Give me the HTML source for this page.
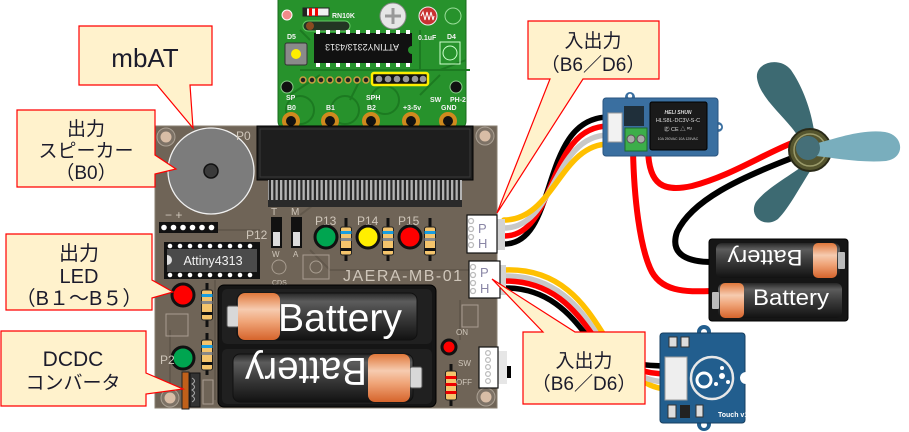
<!DOCTYPE html>
<html><head><meta charset="utf-8">
<style>
html,body{margin:0;padding:0;background:#fff;}
svg{display:block;}
.cj{font-family:"Liberation Sans","Noto Sans CJK JP",sans-serif;fill:#1b1b2b;}
.lb{font-family:"Liberation Sans",sans-serif;fill:#cfc6ba;}
.gw{font-family:"Liberation Sans",sans-serif;fill:#f4f4f4;font-size:7px;font-weight:bold;}
</style></head><body>
<svg width="909" height="432" viewBox="0 0 909 432" xmlns="http://www.w3.org/2000/svg">
<defs>
 <linearGradient id="bat" x1="0" y1="0" x2="0" y2="1">
  <stop offset="0" stop-color="#262626"/>
  <stop offset="0.18" stop-color="#5c5c5c"/>
  <stop offset="0.5" stop-color="#3c3c3c"/>
  <stop offset="1" stop-color="#121212"/>
 </linearGradient>
 <linearGradient id="cap" x1="0" y1="0" x2="0" y2="1">
  <stop offset="0" stop-color="#e0773a"/>
  <stop offset="0.35" stop-color="#f6cbb0"/>
  <stop offset="0.6" stop-color="#f0a67a"/>
  <stop offset="1" stop-color="#d6642c"/>
 </linearGradient>
 <pattern id="pins" width="4.5" height="30" patternUnits="userSpaceOnUse">
  <rect width="4.5" height="30" fill="#2a2a2a"/>
  <rect x="1" y="0" width="2.3" height="20" fill="#b4b4b4"/>
 </pattern>
</defs>

<!-- ===== green mbAT board ===== -->
<rect x="278" y="-12" width="188" height="142" rx="9" fill="#27922c" stroke="#186b1c"/>
<g stroke="#1c7a21" stroke-width="2" fill="none">
 <path d="M300,70 H470 M290,95 L320,75 M350,100 L360,80 M420,95 L440,75 M300,30 L310,40 M420,30 V70 M440,70 L466,60"/>
 <circle cx="300" cy="110" r="14"/><circle cx="345" cy="110" r="14"/><circle cx="385" cy="100" r="14"/>
</g>
<circle cx="287" cy="15" r="5" fill="#f28a8a" stroke="#fff" stroke-width="1"/>
<rect x="303" y="8" width="26" height="8" fill="#f0f0f0" stroke="#222"/>
<rect x="309" y="8" width="3" height="8" fill="#e00"/><rect x="315" y="8" width="3" height="8" fill="#e00"/><rect x="303" y="8" width="4" height="8" fill="#222"/>
<rect x="303" y="21" width="47" height="10" rx="5" fill="#233523" stroke="#6c6"/>
<circle cx="310" cy="26" r="4" fill="#8a4a20"/>
<rect x="285" y="43" width="22" height="22" rx="2" fill="#8a8a8a" stroke="#333"/>
<circle cx="296" cy="54" r="5" fill="#ffee00"/>
<rect x="314" y="33" width="98" height="30" fill="#111"/>
<g fill="#fff">
 <rect x="316" y="30" width="4" height="4"/><rect x="326" y="30" width="4" height="4"/><rect x="336" y="30" width="4" height="4"/><rect x="346" y="30" width="4" height="4"/><rect x="356" y="30" width="4" height="4"/><rect x="366" y="30" width="4" height="4"/><rect x="376" y="30" width="4" height="4"/><rect x="386" y="30" width="4" height="4"/><rect x="396" y="30" width="4" height="4"/><rect x="406" y="30" width="4" height="4"/>
 <rect x="316" y="63" width="4" height="4"/><rect x="326" y="63" width="4" height="4"/><rect x="336" y="63" width="4" height="4"/><rect x="346" y="63" width="4" height="4"/><rect x="356" y="63" width="4" height="4"/><rect x="366" y="63" width="4" height="4"/><rect x="376" y="63" width="4" height="4"/><rect x="386" y="63" width="4" height="4"/><rect x="396" y="63" width="4" height="4"/><rect x="406" y="63" width="4" height="4"/>
</g>
<circle cx="412" cy="50" r="4" fill="#27922c"/>
<text transform="rotate(180 362 48)" x="362" y="52" text-anchor="middle" font-family="Liberation Sans,sans-serif" font-size="9" fill="#eee">ATTINY2313/4313</text>
<circle cx="393" cy="16" r="13" fill="#e6e6e6" stroke="#888"/>
<path d="M393,8 V24 M385,16 H401" stroke="#999" stroke-width="3"/>
<circle cx="428" cy="16" r="9" fill="#c83232" stroke="#eee"/>
<path d="M421,16 l2,-4 l2,8 l2,-8 l2,8 l2,-8 l2,8 l1,-4" stroke="#fff" fill="none"/>
<circle cx="453" cy="16" r="8" fill="none" stroke="#9d9"/>
<rect x="440" y="42" width="20" height="22" fill="none" stroke="#cfc"/>
<circle cx="450" cy="53" r="7" fill="none" stroke="#cfc"/>
<g fill="#222" stroke="#c9a040" stroke-width="1.5">
 <circle cx="303" cy="80" r="3"/><circle cx="312" cy="80" r="3"/><circle cx="321" cy="80" r="3"/><circle cx="330" cy="80" r="3"/><circle cx="339" cy="80" r="3"/><circle cx="348" cy="80" r="3"/><circle cx="357" cy="80" r="3"/><circle cx="366" cy="80" r="3"/>
</g>
<rect x="372" y="73" width="56" height="12" rx="2" fill="#111" stroke="#ffee00" stroke-width="2.5"/>
<g fill="#999"><circle cx="379" cy="79" r="3.3"/><circle cx="388" cy="79" r="3.3"/><circle cx="397" cy="79" r="3.3"/><circle cx="406" cy="79" r="3.3"/><circle cx="415" cy="79" r="3.3"/><circle cx="423" cy="79" r="3.3"/></g>
<circle cx="287" cy="87" r="6" fill="#111" stroke="#8c8"/>
<circle cx="456" cy="87" r="6" fill="#111" stroke="#8c8"/>
<g fill="#111" stroke="#cf8a1e" stroke-width="4">
 <circle cx="291" cy="121" r="7"/><circle cx="330" cy="121" r="7"/><circle cx="371" cy="121" r="7"/><circle cx="411" cy="121" r="7"/><circle cx="448" cy="121" r="7"/>
</g>
<text class="gw" x="287" y="110">B0</text><text class="gw" x="326" y="110">B1</text><text class="gw" x="367" y="110">B2</text><text class="gw" x="403" y="110">+3-5v</text><text class="gw" x="441" y="110">GND</text>
<text class="gw" x="286" y="100">SP</text><text class="gw" x="366" y="100">SPH</text><text class="gw" x="430" y="102">SW</text><text class="gw" x="450" y="102">PH-2</text>
<text class="gw" x="287" y="39">D5</text><text class="gw" x="447" y="39">D4</text><text class="gw" x="418" y="40">0.1uF</text><text class="gw" x="332" y="18">RN10K</text>

<!-- ===== main board ===== -->
<rect x="155" y="126" width="342" height="282" fill="#6f6457" stroke="#8a7f72"/>
<g stroke="#62584c" stroke-width="2" fill="none">
 <path d="M160,230 H260 M170,330 V395 M300,215 L320,200 M440,270 H470 M460,300 V340 M215,280 V400 M310,250 L330,270 H440"/>
</g>
<g><circle cx="166" cy="137" r="9" fill="#7d7266" stroke="#aaa093"/><circle cx="166" cy="137" r="5.5" fill="#d8bda6"/></g>
<g><circle cx="485" cy="136" r="9" fill="#7d7266" stroke="#aaa093"/><circle cx="485" cy="136" r="5.5" fill="#d8bda6"/></g>
<g><circle cx="170" cy="398" r="9" fill="#7d7266" stroke="#aaa093"/><circle cx="170" cy="398" r="5.5" fill="#d8bda6"/></g>
<g><circle cx="486" cy="397" r="9" fill="#7d7266" stroke="#aaa093"/><circle cx="486" cy="397" r="5.5" fill="#d8bda6"/></g>

<circle cx="211" cy="171" r="43" fill="#7c7c7c" stroke="#f0f0f0" stroke-width="1.3"/>
<circle cx="211" cy="171" r="7" fill="#3a3a3a" stroke="#111" stroke-width="1.5"/>
<text class="lb" x="236" y="140" font-size="12">P0</text>

<rect x="257" y="126" width="216" height="54" fill="#1e1e1e" stroke="#000"/>
<rect x="260" y="129" width="210" height="48" fill="none" stroke="#3a3a3a"/>
<rect x="268" y="180" width="194" height="27" fill="url(#pins)"/>

<text class="lb" x="165" y="219" font-size="12">− +</text>
<rect x="159" y="222" width="59" height="11" fill="#111"/>
<g fill="#fff"><circle cx="164" cy="227.5" r="2.8"/><circle cx="173.5" cy="227.5" r="2.8"/><circle cx="183" cy="227.5" r="2.8"/><circle cx="192.5" cy="227.5" r="2.8"/><circle cx="202" cy="227.5" r="2.8"/><circle cx="211.5" cy="227.5" r="2.8"/></g>
<text class="lb" x="246" y="239" font-size="12">P12</text>

<rect x="164" y="242" width="96" height="37" fill="#111"/>
<g fill="#fff">
 <circle cx="170" cy="246" r="2.3"/><circle cx="180" cy="246" r="2.3"/><circle cx="190" cy="246" r="2.3"/><circle cx="200" cy="246" r="2.3"/><circle cx="210" cy="246" r="2.3"/><circle cx="220" cy="246" r="2.3"/><circle cx="230" cy="246" r="2.3"/><circle cx="240" cy="246" r="2.3"/><circle cx="250" cy="246" r="2.3"/>
 <circle cx="170" cy="275" r="2.3"/><circle cx="180" cy="275" r="2.3"/><circle cx="190" cy="275" r="2.3"/><circle cx="200" cy="275" r="2.3"/><circle cx="210" cy="275" r="2.3"/><circle cx="220" cy="275" r="2.3"/><circle cx="230" cy="275" r="2.3"/><circle cx="240" cy="275" r="2.3"/><circle cx="250" cy="275" r="2.3"/>
</g>
<rect x="167" y="249" width="90" height="23" fill="#4a4a4a"/>
<path d="M167,255 a5,5 0 0 1 0,10 z" fill="#ddd"/>
<text x="213" y="265" text-anchor="middle" font-family="Liberation Sans,sans-serif" font-size="12.5" fill="#f2f2f2">Attiny4313</text>

<text class="lb" x="271" y="215" font-size="10">T</text><text class="lb" x="291" y="215" font-size="10">M</text>
<rect x="271" y="217" width="11" height="31" fill="#111"/><rect x="273" y="232" width="7" height="14" fill="#ddd"/>
<rect x="291" y="217" width="11" height="31" fill="#111"/><rect x="293" y="232" width="7" height="14" fill="#ddd"/>
<text class="lb" x="272" y="257" font-size="8">W</text><text class="lb" x="293" y="257" font-size="8">A</text>

<text class="lb" x="315" y="225" font-size="12">P13</text><text class="lb" x="357" y="225" font-size="12">P14</text><text class="lb" x="398" y="225" font-size="12">P15</text>
<circle cx="326" cy="237" r="11" fill="#00a550" stroke="#111" stroke-width="3"/>
<circle cx="368" cy="237" r="11" fill="#ffee00" stroke="#111" stroke-width="3"/>
<circle cx="410" cy="237" r="11" fill="#ff0000" stroke="#111" stroke-width="3"/>
<g>
 <line x1="346" y1="218" x2="346" y2="261" stroke="#111" stroke-width="3"/>
 <rect x="340.5" y="227" width="11" height="28" rx="2" fill="#f4c46c" stroke="#222"/>
 <rect x="340.5" y="231" width="11" height="3" fill="#1a9ee0"/><rect x="340.5" y="238" width="11" height="3" fill="#888"/><rect x="340.5" y="248" width="11" height="3" fill="#111"/>
 <line x1="388" y1="218" x2="388" y2="261" stroke="#111" stroke-width="3"/>
 <rect x="382.5" y="227" width="11" height="28" rx="2" fill="#f4c46c" stroke="#222"/>
 <rect x="382.5" y="231" width="11" height="3" fill="#1a9ee0"/><rect x="382.5" y="238" width="11" height="3" fill="#888"/><rect x="382.5" y="248" width="11" height="3" fill="#111"/>
 <line x1="430" y1="218" x2="430" y2="261" stroke="#111" stroke-width="3"/>
 <rect x="424.5" y="227" width="11" height="28" rx="2" fill="#f4c46c" stroke="#222"/>
 <rect x="424.5" y="231" width="11" height="3" fill="#1a9ee0"/><rect x="424.5" y="238" width="11" height="3" fill="#888"/><rect x="424.5" y="248" width="11" height="3" fill="#111"/>
</g>
<circle cx="279" cy="267" r="7" fill="none" stroke="#a89d90"/><text class="lb" x="272" y="285" font-size="7">CDS</text>
<rect x="303" y="255" width="26" height="24" fill="none" stroke="#a89d90"/><circle cx="316" cy="267" r="6" fill="none" stroke="#a89d90"/>
<text class="lb" x="343" y="281" font-size="16" letter-spacing="1.5">JAERA-MB-01</text>

<!-- left LEDs -->
<circle cx="183" cy="295" r="11" fill="#ff0000" stroke="#111" stroke-width="3"/>
<circle cx="183" cy="358" r="11" fill="#00a550" stroke="#111" stroke-width="3"/>
<rect x="166" y="314" width="22" height="22" fill="none" stroke="#a89d90"/>
<line x1="207" y1="283" x2="207" y2="327" stroke="#111" stroke-width="3"/>
<rect x="201.5" y="290" width="11" height="30" rx="2" fill="#f4c46c" stroke="#222"/>
<rect x="201.5" y="294" width="11" height="3" fill="#1a9ee0"/><rect x="201.5" y="301" width="11" height="3" fill="#888"/><rect x="201.5" y="312" width="11" height="3" fill="#111"/>
<line x1="207" y1="333" x2="207" y2="375" stroke="#111" stroke-width="3"/>
<rect x="201.5" y="340" width="11" height="30" rx="2" fill="#f4c46c" stroke="#222"/>
<rect x="201.5" y="345" width="11" height="3" fill="#1a9ee0"/><rect x="201.5" y="352" width="11" height="3" fill="#888"/><rect x="201.5" y="362" width="11" height="3" fill="#111"/>
<text class="lb" x="160" y="364" font-size="12">P2</text>
<rect x="190" y="373" width="10" height="34" fill="#333" stroke="#111"/>
<path d="M192,378 q5,3 0,6 q5,3 0,6 q5,3 0,6 q5,3 0,6" stroke="#aaa" fill="none"/>
<rect x="182" y="372" width="7" height="37" fill="#c0601a" stroke="#222"/>
<rect x="203" y="380" width="10" height="24" fill="none" stroke="#a89d90"/>

<!-- battery holder -->
<rect x="218" y="285" width="218" height="122" rx="6" fill="#151515" stroke="#000"/>
<rect x="222" y="289" width="210" height="55" rx="5" fill="#202020"/>
<rect x="222" y="349" width="210" height="55" rx="5" fill="#202020"/>
<rect x="237" y="293" width="180" height="47" rx="7" fill="url(#bat)" stroke="#111"/>
<rect x="227" y="306" width="12" height="21" rx="2" fill="#d8d8d8" stroke="#555"/>
<rect x="238" y="293" width="42" height="47" rx="7" fill="url(#cap)"/>
<text x="340" y="331" text-anchor="middle" font-family="Liberation Sans,sans-serif" font-size="39" fill="#fff" textLength="124" lengthAdjust="spacingAndGlyphs">Battery</text>
<rect x="233" y="354" width="180" height="48" rx="7" fill="url(#bat)" stroke="#111"/>
<rect x="410" y="367" width="12" height="21" rx="2" fill="#d8d8d8" stroke="#555"/>
<rect x="368" y="354" width="42" height="48" rx="7" fill="url(#cap)"/>
<text transform="rotate(180 306 372)" x="306" y="386" text-anchor="middle" font-family="Liberation Sans,sans-serif" font-size="39" fill="#fff" textLength="122" lengthAdjust="spacingAndGlyphs">Battery</text>

<!-- right small LED + resistor -->
<circle cx="449" cy="347" r="7" fill="#ff0000" stroke="#111" stroke-width="3"/>
<line x1="451" y1="364" x2="451" y2="406" stroke="#111" stroke-width="3"/>
<rect x="445.5" y="371" width="11" height="29" rx="2" fill="#f4c46c" stroke="#222"/>
<rect x="445.5" y="376" width="11" height="3" fill="#e00"/><rect x="445.5" y="383" width="11" height="3" fill="#e00"/><rect x="445.5" y="391" width="11" height="3" fill="#e00"/>
<text class="lb" x="456" y="335" font-size="8">ON</text><text class="lb" x="458" y="366" font-size="8">SW</text><text class="lb" x="456" y="385" font-size="8">OFF</text>
<rect x="462" y="305" width="16" height="22" fill="none" stroke="#a89d90"/>

<!-- ===== wires (under components) ===== -->
<g fill="none" stroke-width="5.5" stroke-linecap="round">
 <!-- battery/fan power -->
 <path d="M633,150 C634,200 640,245 650,268 C660,292 685,292 712,291" stroke="#ff0000" stroke-width="6"/>
 <path d="M648,150 C649,186 664,192 692,186 C730,176 760,156 792,143" stroke="#ff0000" stroke-width="6"/>
 <path d="M792,158 C740,178 692,200 677,232 C669,256 690,262 712,262" stroke="#000" stroke-width="6"/>
 <!-- CN1 to relay -->
 <path d="M504,244 C560,244 538,117 609,117" stroke="#000"/>
 <path d="M504,236 C558,236 545,126 609,126" stroke="#ff0000"/>
 <path d="M504,228 C556,228 552,135 609,135" stroke="#c8c8c8"/>
 <path d="M504,220 C554,220 560,144 609,144" stroke="#ffc000"/>
 <!-- CN2 to touch -->
 <path d="M505,270 C560,268 585,305 602,332 C620,362 640,389 668,389" stroke="#ffc000"/>
 <path d="M505,276 C556,276 580,308 597,334 C614,360 636,382 668,382" stroke="#c8c8c8"/>
 <path d="M505,281 C552,281 575,310 592,334 C609,358 632,374 668,374" stroke="#ff0000"/>
 <path d="M505,288 C548,288 570,314 587,336 C604,358 628,366 668,366" stroke="#000"/>
</g>

<!-- connectors on main board -->
<rect x="497" y="219" width="8" height="31" fill="#d3d3d3"/>
<rect x="467" y="215" width="30" height="38" fill="#fff" stroke="#111" stroke-width="1.2"/>
<g fill="none" stroke="#bbb" stroke-width="1.3"><circle cx="471" cy="221" r="2.5"/><circle cx="471" cy="229" r="2.5"/><circle cx="471" cy="237" r="2.5"/><circle cx="471" cy="245" r="2.5"/></g>
<text x="478" y="233" font-family="Liberation Sans,sans-serif" font-size="13" fill="#8a86a6">P</text>
<text x="478" y="248" font-family="Liberation Sans,sans-serif" font-size="13" fill="#8a86a6">H</text>
<rect x="499" y="265" width="7" height="30" fill="#d3d3d3"/>
<rect x="469" y="261" width="31" height="37" fill="#fff" stroke="#111" stroke-width="1.2"/>
<g fill="none" stroke="#bbb" stroke-width="1.3"><circle cx="473" cy="267" r="2.5"/><circle cx="473" cy="275" r="2.5"/><circle cx="473" cy="283" r="2.5"/><circle cx="473" cy="291" r="2.5"/></g>
<text x="480" y="277" font-family="Liberation Sans,sans-serif" font-size="13" fill="#8a86a6">P</text>
<text x="480" y="293" font-family="Liberation Sans,sans-serif" font-size="13" fill="#8a86a6">H</text>
<rect x="498" y="351" width="9" height="33" fill="#e6e6e6"/>
<rect x="507" y="366" width="4" height="12" fill="#000"/>
<rect x="479" y="347" width="19" height="41" fill="#fff" stroke="#111" stroke-width="1.2"/>
<g fill="none" stroke="#bbb" stroke-width="1.2"><circle cx="488" cy="353" r="2.4"/><circle cx="488" cy="360" r="2.4"/><circle cx="488" cy="367" r="2.4"/><circle cx="488" cy="374" r="2.4"/><circle cx="488" cy="381" r="2.4"/></g>

<!-- ===== relay module ===== -->
<circle cx="630" cy="97" r="5" fill="#3a6fa0"/><circle cx="630" cy="96" r="2.2" fill="#fff"/>
<circle cx="718" cy="127" r="5" fill="#3a6fa0"/><circle cx="719" cy="127" r="2.2" fill="#fff"/>
<rect x="603" y="98" width="115" height="58" rx="3" fill="#3a6fa0" stroke="#2a5580"/>
<rect x="608" y="113" width="14" height="29" fill="#f2f2f2" stroke="#999"/>
<rect x="624" y="106" width="20" height="20" fill="#1f2f3a"/>
<rect x="625" y="128" width="22" height="23" fill="#3cae4a" stroke="#1f6a2a"/>
<circle cx="631" cy="139" r="4" fill="#aaa" stroke="#555"/><circle cx="641" cy="139" r="4" fill="#aaa" stroke="#555"/>
<rect x="650" y="102" width="57" height="48" rx="2" fill="#1a1a1a" stroke="#000"/>
<text x="678" y="114" text-anchor="middle" font-family="Liberation Sans,sans-serif" font-size="5" font-style="italic" font-weight="bold" fill="#ddd">HELI SHUN</text>
<text x="678" y="122" text-anchor="middle" font-family="Liberation Sans,sans-serif" font-size="5.5" fill="#ddd">HLS8L-DC3V-S-C</text>
<text x="678" y="131" text-anchor="middle" font-family="Liberation Sans,sans-serif" font-size="5.5" fill="#ddd">㊣ CE  △ ᴿᵁ</text>
<text x="678" y="140" text-anchor="middle" font-family="Liberation Sans,sans-serif" font-size="3.5" fill="#ccc">10A 250VAC  10A 125VAC</text>

<!-- ===== fan ===== -->
<path d="M800,140 C790,120 760,100 757,78 C755,62 780,56 791,70 C802,86 812,110 815,138 Z" fill="#3d6a72"/>
<path d="M812,158 C798,172 768,186 756,202 C748,216 764,229 778,219 C790,207 800,186 816,162 Z" fill="#3d6a72"/>
<circle cx="810" cy="150" r="21" fill="#55552e" stroke="#2a2a18" stroke-width="2"/>
<circle cx="810" cy="150" r="16" fill="none" stroke="#9a9a6a" stroke-width="1.5"/>
<path d="M818,143 C838,138 862,129 885,132 C904,135 906,158 886,161 C860,163 835,158 816,156 Z" fill="#79aebd"/>
<circle cx="808" cy="148" r="12" fill="#456f78"/>

<!-- ===== right battery pack ===== -->
<rect x="709" y="239" width="139" height="82" rx="3" fill="#161616" stroke="#000"/>
<rect x="716" y="243" width="124" height="35" rx="6" fill="url(#bat)"/>
<rect x="838" y="252" width="7" height="17" rx="1" fill="#bbb"/>
<rect x="813" y="243" width="24" height="35" rx="5" fill="url(#cap)"/>
<text transform="rotate(180 765 259)" x="765" y="268" text-anchor="middle" font-family="Liberation Sans,sans-serif" font-size="22" fill="#fff" textLength="75" lengthAdjust="spacingAndGlyphs">Battery</text>
<rect x="718" y="283" width="124" height="35" rx="6" fill="url(#bat)"/>
<rect x="712" y="292" width="7" height="17" rx="1" fill="#bbb"/>
<rect x="720" y="283" width="24" height="35" rx="5" fill="url(#cap)"/>
<text x="791" y="305" text-anchor="middle" font-family="Liberation Sans,sans-serif" font-size="22" fill="#fff" textLength="76" lengthAdjust="spacingAndGlyphs">Battery</text>

<!-- ===== touch sensor ===== -->
<circle cx="704" cy="332" r="7" fill="#225e8e"/><circle cx="704" cy="332" r="3" fill="#fff"/>
<circle cx="704" cy="424" r="7" fill="#225e8e"/><circle cx="704" cy="425" r="3" fill="#fff"/>
<rect x="660" y="333" width="85" height="90" rx="3" fill="#225e8e" stroke="#173f60"/>
<circle cx="746" cy="378" r="6" fill="#fff"/>
<rect x="665" y="357" width="22" height="43" fill="#eee" stroke="#999"/>
<circle cx="712" cy="378" r="21" fill="none" stroke="#e8e8e8" stroke-width="2.5"/>
<circle cx="704" cy="380" r="7" fill="none" stroke="#fff" stroke-width="3"/>
<circle cx="722" cy="376" r="3" fill="#fff"/><circle cx="722" cy="368" r="2" fill="#fff"/><circle cx="728" cy="382" r="2" fill="#fff"/><circle cx="716" cy="384" r="2" fill="#fff"/>
<rect x="669" y="337" width="8" height="10" fill="#ddd" stroke="#333"/><rect x="681" y="337" width="8" height="10" fill="#ddd" stroke="#333"/>
<rect x="668" y="405" width="8" height="13" fill="#ddd" stroke="#333"/><rect x="680" y="405" width="10" height="13" fill="#222"/><rect x="696" y="405" width="7" height="12" fill="#ddd" stroke="#333"/>
<text x="718" y="417" font-family="Liberation Sans,sans-serif" font-size="7" font-weight="bold" fill="#fff">Touch v1.1</text>

<!-- ===== callouts ===== -->
<g fill="#fff2cc" stroke="#ff0000" stroke-width="1.2" stroke-linejoin="miter">
 <path d="M79,26 H212 V85 H190 L193,128 L157,85 H79 Z"/>
 <path d="M17,110 H155 V155 L176,169 L155,174 V187 H17 Z"/>
 <path d="M6,234 H152 V280 L173,292 L152,298 V310 H6 Z"/>
 <path d="M1,331 H146 V373 L183,389 L146,394 V406 H1 Z"/>
 <path d="M528,21 H659 V79 H583 L497,213 L550,79 H528 Z"/>
 <path d="M523,332 H543 L492,279 L575,332 H645 V404 H523 Z"/>
</g>
<text class="cj" x="145" y="67" text-anchor="middle" font-size="26">mbAT</text>
<text class="cj" x="86" y="135" text-anchor="middle" font-size="19">出力</text>
<text class="cj" x="86" y="157" text-anchor="middle" font-size="19">スピーカー</text>
<text class="cj" x="86" y="179" text-anchor="middle" font-size="19">（B0）</text>
<text class="cj" x="79" y="260" text-anchor="middle" font-size="20">出力</text>
<text class="cj" x="79" y="283" text-anchor="middle" font-size="20">LED</text>
<text class="cj" x="79" y="305" text-anchor="middle" font-size="20">（B１～B５）</text>
<text class="cj" x="73" y="366" text-anchor="middle" font-size="21">DCDC</text>
<text class="cj" x="73" y="389" text-anchor="middle" font-size="19">コンバータ</text>
<text class="cj" x="593" y="47" text-anchor="middle" font-size="19">入出力</text>
<text class="cj" x="593" y="71" text-anchor="middle" font-size="19">（B6／D6）</text>
<text class="cj" x="584" y="367" text-anchor="middle" font-size="19">入出力</text>
<text class="cj" x="584" y="390" text-anchor="middle" font-size="19">（B6／D6）</text>
</svg>
</body></html>
